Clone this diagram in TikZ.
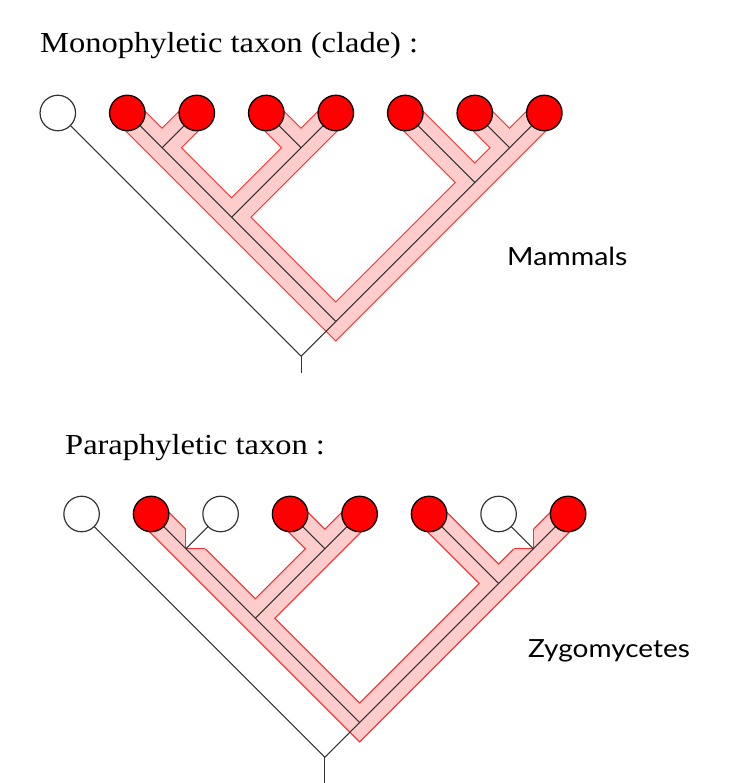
\documentclass[tikz,border=0pt]{standalone}
\usepackage{fontspec}
\setmainfont{Liberation Serif}
\newfontfamily\labfont{Lato}
\newcommand\mytitlefont{\fontsize{29}{34}\selectfont}
\newcommand\mylabsize{\labfont\fontsize{25}{30}\selectfont}
\definecolor{bandpink}{HTML}{FFCCCC}
\definecolor{bandred}{HTML}{FF2A2A}
\definecolor{linegray}{HTML}{333333}
\begin{document}
\begin{tikzpicture}[x=1pt,y=-1pt,
  bandrim/.style={draw=bandred, line width=28.5pt, line join=miter},
  bandfill/.style={draw=bandpink, line width=26.3pt, line join=miter},
  notchline/.style={draw=bandred, line width=1.1pt},
  branch/.style={draw=linegray, line width=1pt},
  leafred/.style={circle, draw=black, line width=1.3pt, fill=red, minimum size=35.5pt, inner sep=0pt},
  leafwhite/.style={circle, draw=linegray, line width=1.2pt, fill=white, minimum size=35.5pt, inner sep=0pt},
  title/.style={anchor=base west, inner sep=0pt, font=\mytitlefont},
  grouplabel/.style={anchor=base west, inner sep=0pt, font=\mylabsize}]
\useasboundingbox (0,0) rectangle (732,783);

% ---------- coordinates, top tree ----------
\begin{scope}[shift={(57.8,113)}]
\coordinate (a0) at (0,0);
\coordinate (a1) at (69.5,0);
\coordinate (a2) at (139,0);
\coordinate (a3) at (208.5,0);
\coordinate (a4) at (278,0);
\coordinate (a5) at (347.5,0);
\coordinate (a6) at (417,0);
\coordinate (a7) at (486.5,0);
\coordinate (a12) at (104.25,34.75);
\coordinate (a34) at (243.25,34.75);
\coordinate (aL) at (173.75,104.25);
\coordinate (a67) at (451.75,34.75);
\coordinate (a5j) at (417,69.5);
\coordinate (aC) at (278,208.5);
\coordinate (aR) at (243.25,243.25);
\coordinate (aS) at (243.25,260);
\end{scope}

% ---------- coordinates, bottom tree ----------
\begin{scope}[shift={(81.6,514)}]
\coordinate (b0) at (0,0);
\coordinate (b1) at (69.5,0);
\coordinate (b2) at (139,0);
\coordinate (b3) at (208.5,0);
\coordinate (b4) at (278,0);
\coordinate (b5) at (347.5,0);
\coordinate (b6) at (417,0);
\coordinate (b7) at (486.5,0);
\coordinate (b12) at (104.25,34.75);
\coordinate (b34) at (243.25,34.75);
\coordinate (bL) at (173.75,104.25);
\coordinate (b67) at (451.75,34.75);
\coordinate (b5j) at (417,69.5);
\coordinate (bC) at (278,208.5);
\coordinate (bR) at (243.25,243.25);
\coordinate (bS) at (243.25,270);
\end{scope}

% ---------- highlighted bands ----------
\foreach \s in {bandrim,bandfill}{
  \draw[\s] (a1) -- (aC) -- (a7);
  \draw[\s] (a12) -- (a2);
  \draw[\s] (aL) -- (a4);
  \draw[\s] (a34) -- (a3);
  \draw[\s] (a5j) -- (a5);
  \draw[\s] (a67) -- (a6);
  \draw[\s] (b1) -- (bC) -- (b7);
  \draw[\s] (bL) -- (b4);
  \draw[\s] (b34) -- (b3);
  \draw[\s] (b5j) -- (b5);
}
% notches where the excluded branches leave the band
\fill[white] (b12) -- +(0,-21.5) -- +(21.5,0) -- cycle;
\draw[notchline] (b12) +(0,-19.6) -- (b12) -- +(19.6,0);
\fill[white] (b67) -- +(0,-21.5) -- +(-21.5,0) -- cycle;
\draw[notchline] (b67) +(0,-19.6) -- (b67) -- +(-19.6,0);

% ---------- tree branches ----------
\foreach \p in {a,b}{
  \draw[branch] (\p0) -- (\p R);
  \draw[branch] (\p R) -- (\p C);
  \draw[branch] (\p R) -- (\p S);
  \draw[branch] (\p1) -- (\p C);
  \draw[branch] (\p C) -- (\p7);
  \draw[branch] (\p12) -- (\p2);
  \draw[branch] (\p L) -- (\p4);
  \draw[branch] (\p34) -- (\p3);
  \draw[branch] (\p5j) -- (\p5);
  \draw[branch] (\p67) -- (\p6);
}

% ---------- leaves ----------
\node[leafwhite] (na0) at (a0) {};
\node[leafred] (na1) at (a1) {};
\node[leafred] (na2) at (a2) {};
\node[leafred] (na3) at (a3) {};
\node[leafred] (na4) at (a4) {};
\node[leafred] (na5) at (a5) {};
\node[leafred] (na6) at (a6) {};
\node[leafred] (na7) at (a7) {};

\node[leafwhite] (nb0) at (b0) {};
\node[leafred] (nb1) at (b1) {};
\node[leafwhite] (nb2) at (b2) {};
\node[leafred] (nb3) at (b3) {};
\node[leafred] (nb4) at (b4) {};
\node[leafred] (nb5) at (b5) {};
\node[leafwhite] (nb6) at (b6) {};
\node[leafred] (nb7) at (b7) {};

% ---------- texts ----------
\node[title] (t1) at (40,52.3) {\scalebox{1.12}[1]{Monophyletic taxon (clade) :}};
\node[title] (t2) at (65,454.3) {\scalebox{1.12}[1]{Paraphyletic taxon :}};
\node[grouplabel] (lab1) at (507,265.7) {\scalebox{1.14}[1]{Mammals}};
\node[grouplabel] (lab2) at (528,657.3) {\scalebox{1.12}[1]{Zygomycetes}};
\end{tikzpicture}
\end{document}
